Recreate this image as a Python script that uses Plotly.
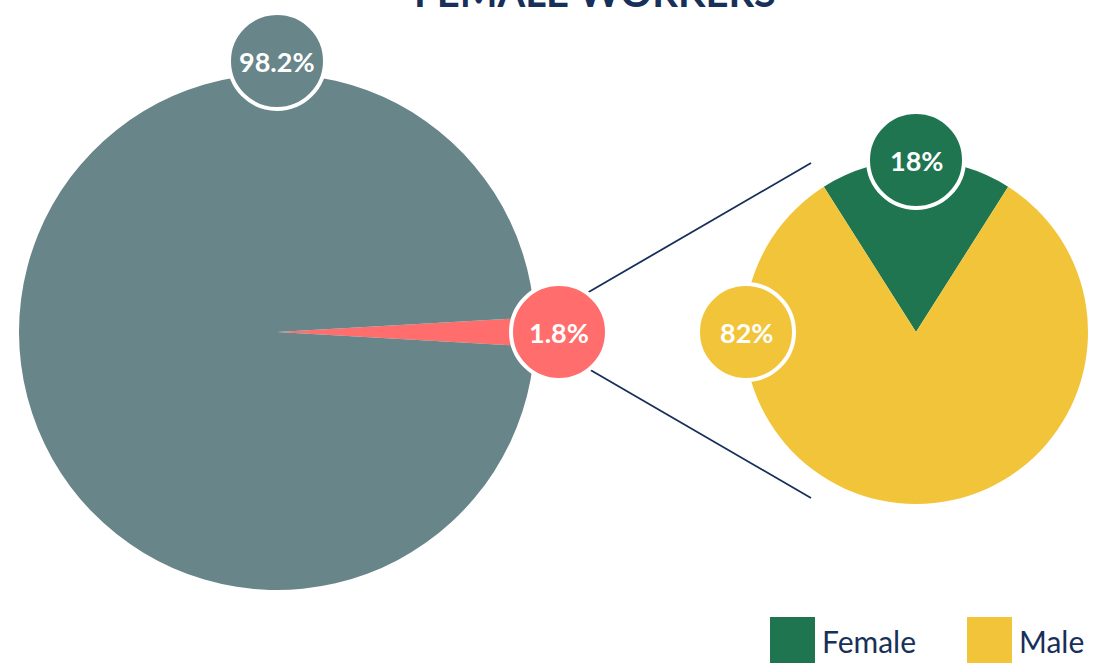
import math
import plotly.graph_objects as go

# ---------------- data ----------------
title_text = "FEMALE WORKERS"
main_labels = ["Female workers", "Other workers"]
main_values = [1.8, 98.2]
main_colors = ["#FF6D6D", "#688589"]
sub_labels = ["Female", "Male"]
sub_values = [18, 82]
sub_colors = ["#1F7550", "#F1C43A"]

W, H = 1094, 663
NAVY = "#17305A"
FONT = "Lato"


def px(x):
    return x / W


def py(y):
    return 1 - y / H


def domain(cx, cy, r):
    return dict(x=[px(cx - r), px(cx + r)], y=[py(cy + r), py(cy - r)])


# pie geometry (pixels)
MC, MR = (277, 332), 258
SC, SR = (916, 332), 172

fig = go.Figure()
fig.add_trace(go.Pie(
    labels=main_labels, values=main_values, sort=False, direction="clockwise",
    rotation=90 - main_values[0] / sum(main_values) * 180,
    marker=dict(colors=main_colors, line=dict(width=0)),
    textinfo="none", showlegend=False, domain=domain(MC[0], MC[1], MR),
    hovertemplate="%{label}: %{value}%<extra></extra>",
))
fig.add_trace(go.Pie(
    labels=sub_labels, values=sub_values, sort=False, direction="clockwise",
    rotation=-sub_values[0] / sum(sub_values) * 180,
    marker=dict(colors=sub_colors, line=dict(width=0)),
    textinfo="none", showlegend=False, domain=domain(SC[0], SC[1], SR),
    hovertemplate="%{label}: %{value}%<extra></extra>",
))

shapes = []
annotations = []

# connector lines
for (x0, y0, x1, y1) in [(587, 293, 811, 163), (587, 368, 811, 498)]:
    shapes.append(dict(type="line", xref="paper", yref="paper",
                       x0=px(x0), y0=py(y0), x1=px(x1), y1=py(y1),
                       line=dict(color=NAVY, width=1.8), layer="above"))


def bubble(center, angle_deg, dist, text, color):
    a = math.radians(angle_deg)
    cx = center[0] + dist * math.sin(a)
    cy = center[1] - dist * math.cos(a)
    r = 48
    shapes.append(dict(type="circle", xref="paper", yref="paper",
                       x0=px(cx - r), x1=px(cx + r), y0=py(cy + r), y1=py(cy - r),
                       fillcolor=color, line=dict(color="white", width=4), layer="above"))
    annotations.append(dict(x=px(cx), y=py(cy), xref="paper", yref="paper",
                            text="<b>%s</b>" % text, showarrow=False,
                            font=dict(family=FONT, size=27, color="white"),
                            xanchor="center", yanchor="middle"))


bubble(MC, 0, 271, f"{main_values[1]}%", main_colors[1])
bubble(MC, 90, 282, f"{main_values[0]}%", main_colors[0])
bubble(SC, 0, 172, f"{sub_values[0]}%", sub_colors[0])
bubble(SC, -90, 170, f"{sub_values[1]}%", sub_colors[1])

# title (partly above the top edge, as in the original)
annotations.append(dict(x=px(595), y=py(18), xref="paper", yref="paper",
                        text="<b>%s</b>" % title_text, showarrow=False,
                        font=dict(family=FONT, size=40, color=NAVY),
                        xanchor="center", yanchor="bottom"))

# legend
for (sx, lab, col) in [(770, sub_labels[0], sub_colors[0]), (967, sub_labels[1], sub_colors[1])]:
    shapes.append(dict(type="rect", xref="paper", yref="paper",
                       x0=px(sx), x1=px(sx + 45), y0=py(672), y1=py(617),
                       fillcolor=col, line=dict(width=0), layer="above"))
    annotations.append(dict(x=px(sx + 50), y=py(641), xref="paper", yref="paper",
                            text=lab, showarrow=False,
                            font=dict(family=FONT, size=30, color=NAVY),
                            xanchor="left", yanchor="middle"))

fig.update_layout(
    width=W, height=H, margin=dict(l=0, r=0, t=0, b=0),
    paper_bgcolor="white", plot_bgcolor="white",
    shapes=shapes, annotations=annotations, showlegend=False,
)

fig.write_html(
    "out.html",
    config={"displayModeBar": False},
    post_script="document.body.style.margin='0';document.body.style.overflow='hidden';",
)
